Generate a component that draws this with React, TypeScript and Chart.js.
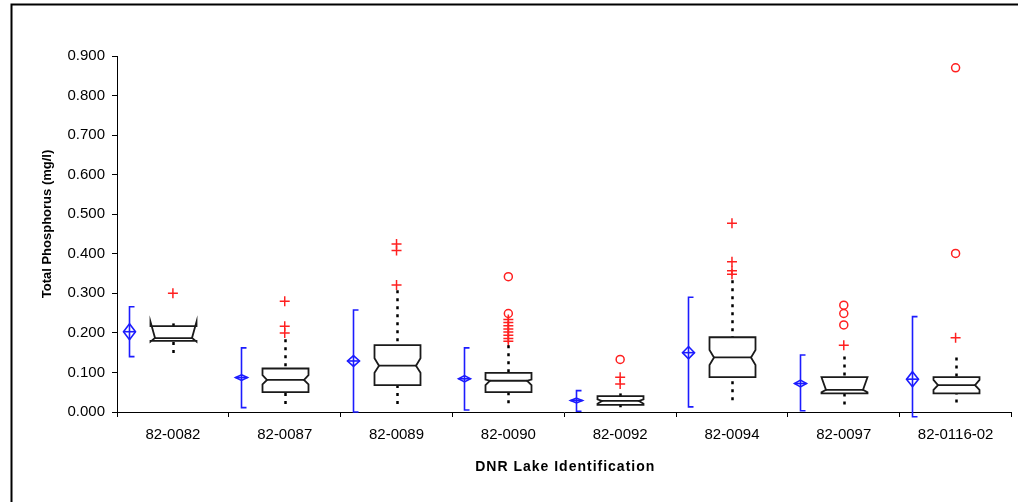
import React, { useEffect, useRef } from 'react';
import { Chart, registerables } from 'chart.js';

Chart.register(...registerables);

// ---- data ----
const categories = ['82-0082', '82-0087', '82-0089', '82-0090', '82-0092', '82-0094', '82-0097', '82-0116-02'];
const yTicks = [0, 0.1, 0.2, 0.3, 0.4, 0.5, 0.6, 0.7, 0.8, 0.9];
const xTitle = 'DNR Lake Identification';
const yTitle = 'Total Phosphorus (mg/l)';

// mean diamond + standard deviation bracket
const means = [0.203, 0.087, 0.129, 0.084, 0.029, 0.150, 0.072, 0.083];
const meanCI = [0.020, 0.007, 0.0135, 0.008, 0.006, 0.0155, 0.0085, 0.019];
const sdLow = [0.140, 0.011, 0.000, 0.005, 0.002, 0.013, 0.003, -0.012];
const sdHigh = [0.266, 0.162, 0.258, 0.162, 0.054, 0.290, 0.144, 0.241];

// notched box plot
const whiskerLow = [0.149, 0.020, 0.020, 0.022, 0.012, 0.030, 0.019, 0.024];
const q1 = [0.180, 0.050, 0.068, 0.050, 0.018, 0.088, 0.047, 0.047];
const notchLow = [0.178, 0.070, 0.099, 0.068, 0.021, 0.119, 0.050, 0.056];
const median = [0.187, 0.081, 0.117, 0.079, 0.028, 0.138, 0.056, 0.068];
const notchHigh = [0.228, 0.093, 0.136, 0.082, 0.032, 0.157, 0.088, 0.081];
const q3 = [0.217, 0.110, 0.169, 0.099, 0.040, 0.189, 0.088, 0.088];
const whiskerHigh = [0.224, 0.184, 0.308, 0.169, 0.047, 0.333, 0.140, 0.138];

// outliers: "+" mild, "o" extreme
const plusOutliers: number[][] = [
  [0.300],
  [0.280, 0.217, 0.200],
  [0.425, 0.408, 0.321],
  [0.234, 0.226, 0.218, 0.210, 0.202, 0.194, 0.186, 0.179],
  [0.088, 0.071],
  [0.477, 0.380, 0.357, 0.348],
  [0.169],
  [0.188],
];
const circleOutliers: number[][] = [
  [],
  [],
  [],
  [0.342, 0.249],
  [0.133],
  [],
  [0.270, 0.249, 0.220],
  [0.870, 0.401],
];

// ---- styling constants ----
const FONT = '"Liberation Sans", Arial, sans-serif';
const BLUE = '#1c1cff';
const RED = '#ff2020';
const BOX_HALF = 23;
const NOTCH_INSET = 4.5;
const MEAN_OFFSET = -44;
const MEAN_HALF = 6;
const CAP = 5;

export default function App() {
  const ref = useRef<HTMLCanvasElement>(null);

  useEffect(() => {
    const canvas = ref.current;
    if (!canvas) return;
    Chart.defaults.font.family = FONT;

    const toPoints = (arr: number[][]) =>
      arr.flatMap((vals, i) => vals.map((v) => ({ x: categories[i], y: v })));

    const boxPlugin = {
      id: 'boxesAndMeans',
      afterDatasetsDraw(chart: any) {
        const { ctx } = chart;
        const xs = chart.scales.x;
        const ys = chart.scales.y;
        const py = (v: number) => ys.getPixelForValue(v);
        ctx.save();
        categories.forEach((_, i) => {
          const cx = Math.round(xs.getPixelForValue(i)) + 0.5;
          const L = cx - BOX_HALF;
          const R = cx + BOX_HALF;

          // whiskers (dotted)
          ctx.strokeStyle = '#000';
          ctx.lineWidth = 2.5;
          ctx.setLineDash([3, 5]);
          ctx.beginPath();
          ctx.moveTo(cx, py(whiskerHigh[i]));
          ctx.lineTo(cx, py(q3[i]));
          ctx.stroke();
          ctx.beginPath();
          ctx.moveTo(cx, py(whiskerLow[i]));
          ctx.lineTo(cx, py(q1[i]));
          ctx.stroke();
          ctx.setLineDash([]);

          // notched box
          ctx.lineWidth = 1.8;
          ctx.strokeStyle = '#1a1a1a';
          ctx.fillStyle = '#fff';
          ctx.beginPath();
          ctx.moveTo(L, py(q3[i]));
          ctx.lineTo(L, py(notchHigh[i]));
          ctx.lineTo(L + NOTCH_INSET, py(median[i]));
          ctx.lineTo(L, py(notchLow[i]));
          ctx.lineTo(L, py(q1[i]));
          ctx.lineTo(R, py(q1[i]));
          ctx.lineTo(R, py(notchLow[i]));
          ctx.lineTo(R - NOTCH_INSET, py(median[i]));
          ctx.lineTo(R, py(notchHigh[i]));
          ctx.lineTo(R, py(q3[i]));
          ctx.closePath();
          ctx.fill();
          ctx.stroke();
          ctx.beginPath();
          ctx.moveTo(L + NOTCH_INSET, py(median[i]));
          ctx.lineTo(R - NOTCH_INSET, py(median[i]));
          ctx.stroke();

          // mean diamond + sd bracket
          const mx = cx + MEAN_OFFSET;
          ctx.strokeStyle = BLUE;
          ctx.lineWidth = 1.6;
          ctx.beginPath();
          ctx.moveTo(mx + CAP, py(sdHigh[i]));
          ctx.lineTo(mx, py(sdHigh[i]));
          ctx.lineTo(mx, py(sdLow[i]));
          ctx.lineTo(mx + CAP, py(sdLow[i]));
          ctx.stroke();
          ctx.beginPath();
          ctx.moveTo(mx, py(means[i] + meanCI[i]));
          ctx.lineTo(mx + MEAN_HALF, py(means[i]));
          ctx.lineTo(mx, py(means[i] - meanCI[i]));
          ctx.lineTo(mx - MEAN_HALF, py(means[i]));
          ctx.closePath();
          ctx.stroke();
          ctx.beginPath();
          ctx.moveTo(mx - MEAN_HALF, py(means[i]));
          ctx.lineTo(mx + MEAN_HALF, py(means[i]));
          ctx.stroke();
        });
        ctx.restore();
      },
      afterDraw(chart: any) {
        const { ctx, chartArea } = chart;
        ctx.save();
        // outer frame (only left and top edges are inside the picture)
        ctx.strokeStyle = '#000';
        ctx.lineWidth = 2;
        ctx.beginPath();
        ctx.moveTo(11.5, 502);
        ctx.lineTo(11.5, 4.5);
        ctx.lineTo(1018, 4.5);
        ctx.stroke();

        // axis titles
        ctx.fillStyle = '#000';
        ctx.textAlign = 'center';
        ctx.textBaseline = 'middle';
        ctx.font = `bold 14px ${FONT}`;
        try {
          (ctx as any).letterSpacing = '1px';
        } catch (e) {}
        ctx.fillText(xTitle, (chartArea.left + chartArea.right) / 2 + 1, 467);
        try {
          (ctx as any).letterSpacing = '0px';
        } catch (e) {}
        ctx.font = `bold 13px ${FONT}`;
        ctx.translate(47, (chartArea.top + chartArea.bottom) / 2 - 10);
        ctx.rotate(-Math.PI / 2);
        ctx.fillText(yTitle, 0, 0);
        ctx.restore();
      },
    };

    const chart = new Chart(canvas, {
      type: 'scatter',
      data: {
        labels: categories,
        datasets: [
          {
            data: toPoints(plusOutliers) as any,
            pointStyle: 'cross',
            pointRadius: 5,
            borderColor: RED,
            backgroundColor: RED,
            borderWidth: 1.5,
          },
          {
            data: toPoints(circleOutliers) as any,
            pointStyle: 'circle',
            pointRadius: 4,
            borderColor: RED,
            backgroundColor: 'rgba(255,255,255,0)',
            borderWidth: 1.5,
          },
        ],
      },
      options: {
        responsive: false,
        animation: false,
        layout: { padding: { left: 0, top: 56, right: 5, bottom: 0 } },
        plugins: { legend: { display: false }, tooltip: { enabled: false } },
        scales: {
          x: {
            type: 'category',
            labels: categories,
            offset: true,
            position: 'bottom',
            grid: { offset: true, drawOnChartArea: false, drawTicks: true, tickLength: 5, color: '#000' },
            border: { color: '#000', width: 1 },
            ticks: { color: '#000', font: { size: 15 }, padding: 9, maxRotation: 0, autoSkip: false },
            title: { display: false },
            afterFit: (s: any) => {
              s.height = 90;
            },
          },
          y: {
            type: 'linear',
            min: 0,
            max: 0.9,
            afterBuildTicks: (s: any) => {
              s.ticks = yTicks.map((v) => ({ value: v }));
            },
            ticks: {
              color: '#000',
              font: { size: 15 },
              padding: 7,
              callback: (v: any) => Number(v).toFixed(3),
            },
            grid: { drawOnChartArea: false, drawTicks: true, tickLength: 5, color: '#000' },
            border: { color: '#000', width: 1 },
            title: { display: false },
            afterFit: (s: any) => {
              s.width = 117;
            },
          },
        },
      } as any,
      plugins: [boxPlugin],
    });

    return () => chart.destroy();
  }, []);

  return (
    <div style={{ position: 'fixed', left: 0, top: 0, width: 1018, height: 502, background: '#fff' }}>
      <canvas ref={ref} width={1018} height={502} style={{ display: 'block' }} />
    </div>
  );
}
